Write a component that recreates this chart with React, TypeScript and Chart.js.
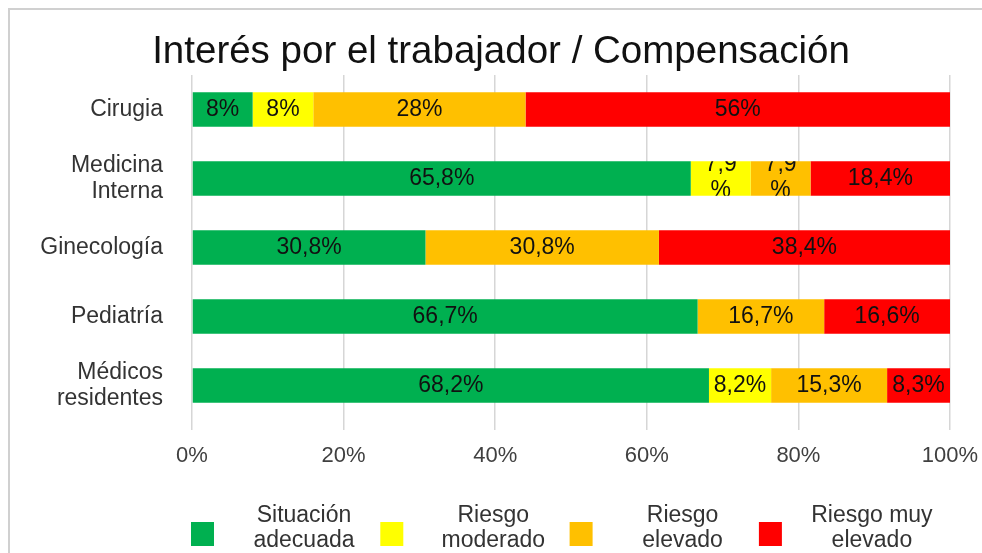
import React, { useEffect, useRef } from "react";
import { Chart, registerables } from "chart.js";

Chart.register(...registerables);

const chartTitle = "Interés por el trabajador / Compensación";

const categories: string[][] = [
  ["Cirugia"],
  ["Medicina", "Interna"],
  ["Ginecología"],
  ["Pediatría"],
  ["Médicos", "residentes"],
];

const seriesNames = ["Situación adecuada", "Riesgo moderado", "Riesgo elevado", "Riesgo muy elevado"];
const seriesColors = ["#00B050", "#FFFF00", "#FFC000", "#FF0000"];

const situacionAdecuada = [8, 65.8, 30.8, 66.7, 68.2];
const riesgoModerado = [8, 7.9, 0, 0, 8.2];
const riesgoElevado = [28, 7.9, 30.8, 16.7, 15.3];
const riesgoMuyElevado = [56, 18.4, 38.4, 16.6, 8.3];

const xTicks = [0, 20, 40, 60, 80, 100];

const FONT = "'Liberation Sans', Arial, sans-serif";

const fmt = (v: number) => String(v).replace(".", ",") + "%";

const titlePlugin = {
  id: "customTitle",
  afterDraw(chart: any) {
    const ctx = chart.ctx;
    ctx.save();
    ctx.font = `38.5px ${FONT}`;
    ctx.fillStyle = "#111111";
    ctx.textAlign = "center";
    ctx.textBaseline = "alphabetic";
    ctx.fillText(chartTitle, 501, 63);
    ctx.restore();
  },
};

const dataLabelPlugin = {
  id: "dataLabels",
  afterDatasetsDraw(chart: any) {
    const ctx = chart.ctx;
    ctx.save();
    ctx.font = `23px ${FONT}`;
    ctx.fillStyle = "#111111";
    ctx.textAlign = "center";
    ctx.textBaseline = "middle";
    chart.data.datasets.forEach((ds: any, di: number) => {
      const meta = chart.getDatasetMeta(di);
      meta.data.forEach((bar: any, i: number) => {
        const v = ds.data[i];
        if (!v) return;
        const left = Math.min(bar.x, bar.base);
        const right = Math.max(bar.x, bar.base);
        const w = right - left;
        const cx = (left + right) / 2;
        const cy = bar.y;
        const txt = fmt(v);
        const tw = ctx.measureText(txt).width;
        if (w - tw < 8.5) {
          // wrapped label, clipped to the bar like the original
          ctx.save();
          ctx.beginPath();
          ctx.rect(left, cy - bar.height / 2, w, bar.height);
          ctx.clip();
          const num = txt.slice(0, -1);
          ctx.fillText(num, cx, cy - 14);
          ctx.fillText("%", cx, cy + 12);
          ctx.restore();
        } else {
          ctx.fillText(txt, cx, cy);
        }
      });
    });
    ctx.restore();
  },
};

const legendPlugin = {
  id: "customLegend",
  afterDraw(chart: any) {
    const ctx = chart.ctx;
    const area = chart.chartArea;
    ctx.save();
    ctx.font = `23px ${FONT}`;
    ctx.textAlign = "center";
    ctx.textBaseline = "middle";
    const step = 189.3;
    chart.data.datasets.forEach((ds: any, i: number) => {
      const bx = area.left - 1 + i * step;
      const by = 522;
      ctx.fillStyle = ds.backgroundColor;
      ctx.fillRect(bx, by, 23, 24);
      const words = String(ds.label).split(" ");
      const lines: string[] = [];
      let cur = "";
      words.forEach((w) => {
        const test = cur ? cur + " " + w : w;
        if (cur && ctx.measureText(test).width > 130) {
          lines.push(cur);
          cur = w;
        } else cur = test;
      });
      if (cur) lines.push(cur);
      ctx.fillStyle = "#333333";
      const tx = bx + 23 + 90;
      const lh = 25.5;
      const startY = 528 - ((lines.length - 1) * lh) / 2;
      lines.forEach((ln, k) => ctx.fillText(ln, tx, startY + k * lh));
    });
    ctx.restore();
  },
};

export default function App() {
  const ref = useRef<HTMLCanvasElement | null>(null);

  useEffect(() => {
    if (!ref.current) return;
    const seriesData = [situacionAdecuada, riesgoModerado, riesgoElevado, riesgoMuyElevado];
    const chart = new Chart(ref.current, {
      type: "bar",
      data: {
        labels: categories,
        datasets: seriesData.map((d, i) => ({
          label: seriesNames[i],
          data: d,
          backgroundColor: seriesColors[i],
          borderWidth: 0,
          categoryPercentage: 0.5,
          barPercentage: 1.0,
        })),
      },
      options: {
        indexAxis: "y",
        animation: false,
        responsive: false,
        devicePixelRatio: 1,
        layout: { padding: { left: 0, right: 32, top: 75, bottom: 73 } },
        plugins: {
          legend: { display: false },
          tooltip: { enabled: false },
          title: { display: false },
        },
        scales: {
          x: {
            stacked: true,
            min: 0,
            max: 100,
            afterBuildTicks: (scale: any) => {
              scale.ticks = xTicks.map((v) => ({ value: v }));
            },
            afterFit: (scale: any) => {
              scale.height = 60;
              scale.paddingLeft = 0;
              scale.paddingRight = 0;
            },
            ticks: {
              callback: (v: any) => v + "%",
              color: "#404040",
              font: { family: FONT, size: 22 },
              padding: 13,
              maxRotation: 0,
            },
            grid: { color: "#d6d6d6", lineWidth: 1.5, tickLength: 10, drawTicks: true },
            border: { display: false },
          },
          y: {
            stacked: true,
            afterFit: (scale: any) => {
              scale.width = 192;
              scale.paddingTop = 0;
              scale.paddingBottom = 0;
            },
            ticks: {
              color: "#333333",
              font: { family: FONT, size: 23, lineHeight: 1.12 },
              padding: 29,
            },
            grid: { display: false, drawTicks: false },
            border: { display: false },
          },
        },
      },
      plugins: [dataLabelPlugin, legendPlugin, titlePlugin],
    } as any);
    return () => chart.destroy();
  }, []);

  return (
    <div style={{ position: "fixed", left: 0, top: 0, width: 982, height: 553, overflow: "hidden", background: "#fff" }}>
      <div
        style={{
          position: "absolute",
          left: 8,
          top: 8,
          right: -10,
          bottom: -10,
          borderTop: "2px solid #d0d0d0",
          borderLeft: "2px solid #d0d0d0",
        }}
      />
      <canvas ref={ref} width={982} height={553} style={{ position: "absolute", left: 0, top: 0, display: "block" }} />
    </div>
  );
}
